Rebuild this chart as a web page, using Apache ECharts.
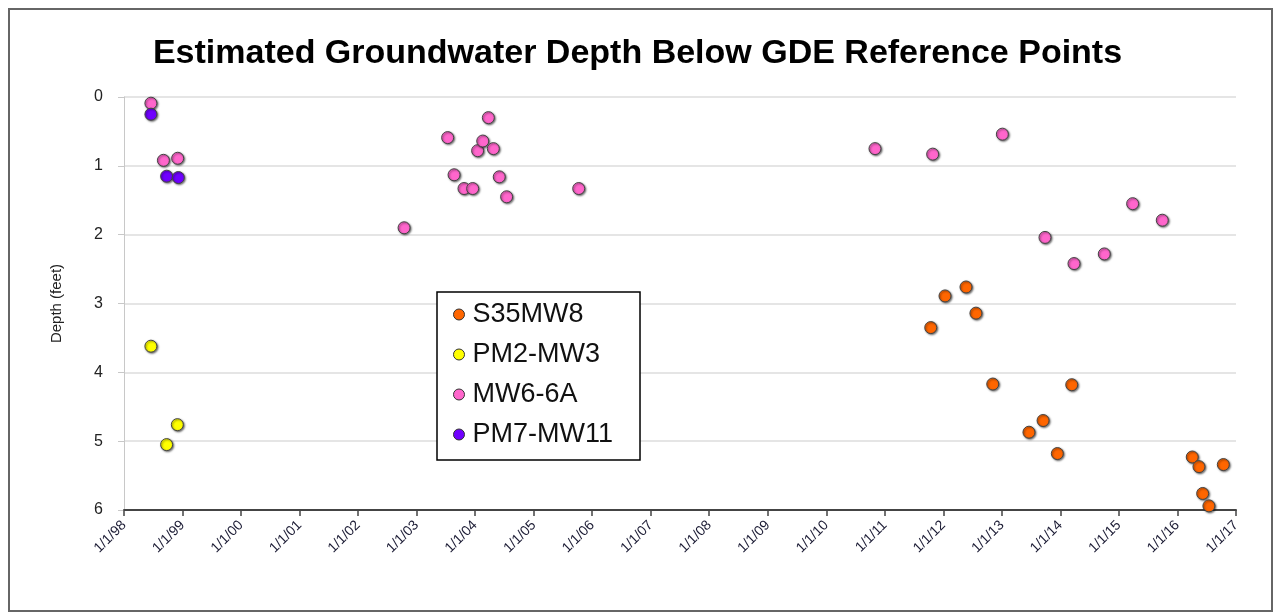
<!DOCTYPE html>
<html>
<head>
<meta charset="utf-8">
<script src="https://cdn.jsdelivr.net/npm/echarts@6/dist/echarts.min.js"></script>
<style>
  html, body { margin: 0; padding: 0; background: #fff; }
  #chart { width: 1275px; height: 613px; }
</style>
</head>
<body>
<div id="chart"></div>
<script>
// series data: [date, depth in feet]
const s35mw8 = [
  ["2011-10-15", 3.35], ["2012-01-12", 2.89], ["2012-05-22", 2.76], ["2012-07-23", 3.14],
  ["2012-11-05", 4.17], ["2013-06-19", 4.87], ["2013-09-15", 4.70], ["2013-12-13", 5.18],
  ["2014-03-13", 4.18], ["2016-04-03", 5.23], ["2016-05-15", 5.37], ["2016-06-07", 5.76],
  ["2016-07-16", 5.94], ["2016-10-14", 5.34]
];
const pm2mw3 = [
  ["1998-06-18", 3.62], ["1998-09-24", 5.05], ["1998-11-30", 4.76]
];
const mw66a = [
  ["1998-06-18", 0.09], ["1998-09-04", 0.92], ["1998-12-02", 0.89],
  ["2002-10-15", 1.90], ["2003-07-14", 0.59], ["2003-08-23", 1.13], ["2003-10-24", 1.33],
  ["2003-12-17", 1.33], ["2004-01-17", 0.78], ["2004-02-18", 0.64], ["2004-03-24", 0.30],
  ["2004-04-24", 0.75], ["2004-05-31", 1.16], ["2004-07-16", 1.45], ["2005-10-09", 1.33],
  ["2010-11-01", 0.75], ["2011-10-27", 0.83], ["2013-01-04", 0.54], ["2013-09-27", 2.04],
  ["2014-03-27", 2.42], ["2014-10-02", 2.28], ["2015-03-28", 1.55], ["2015-09-29", 1.79]
];
const pm7mw11 = [
  ["1998-06-18", 0.25], ["1998-09-24", 1.15], ["1998-12-06", 1.17]
];
const seriesNames = ["S35MW8", "PM2-MW3", "MW6-6A", "PM7-MW11"];
const seriesColors = ["#FF6600", "#FFFF00", "#FF66CC", "#7000FF"];
const seriesData = [s35mw8, pm2mw3, mw66a, pm7mw11];

const chart = echarts.init(document.getElementById("chart"));
const font = "'Liberation Sans', Arial, sans-serif";
const YEAR = 365 * 24 * 3600 * 1000;

const options = {
  animation: false,
  backgroundColor: "#fff",
  graphic: [
    {
      type: "rect",
      shape: { x: 9, y: 9, width: 1263, height: 602 },
      style: { fill: "none", stroke: "#666", lineWidth: 2 },
      silent: true,
      z: -1
    }
  ],
  title: {
    text: "Estimated Groundwater Depth Below GDE Reference Points",
    left: "center",
    top: 32,
    textStyle: { fontFamily: font, fontSize: 34, fontWeight: "bold", color: "#000" }
  },
  legend: {
    orient: "vertical",
    left: 437,
    top: 292,
    padding: [9, 27, 12, 16],
    itemGap: 13,
    itemWidth: 11,
    itemHeight: 11,
    borderColor: "#000",
    borderWidth: 1.5,
    backgroundColor: "#fff",
    icon: "circle",
    textStyle: { fontFamily: font, fontSize: 27, color: "#111", padding: [0, 0, 0, 3] },
    data: seriesNames.map((n, i) => ({
      name: n,
      itemStyle: { color: seriesColors[i], borderColor: "#333", borderWidth: 1 }
    }))
  },
  grid: { left: 124, right: 39, top: 97, bottom: 103, containLabel: false },
  xAxis: {
    type: "time",
    position: "bottom",
    min: "1998-01-01",
    max: "2017-01-01",
    minInterval: YEAR,
    maxInterval: YEAR + 24 * 3600 * 1000,
    splitLine: { show: false },
    axisLine: { onZero: false, lineStyle: { color: "#444", width: 2 } },
    axisTick: { show: true, length: 6, lineStyle: { color: "#444", width: 1.5 } },
    axisLabel: {
      rotate: 45,
      fontFamily: font,
      fontSize: 14,
      color: "#1a1a33",
      margin: 13,
      showMinLabel: true,
      showMaxLabel: true,
      formatter: val => {
        const d = new Date(val);
        return "1/1/" + String(d.getFullYear()).slice(2);
      }
    }
  },
  yAxis: {
    type: "value",
    inverse: true,
    min: 0,
    max: 6,
    interval: 1,
    name: "Depth (feet)",
    nameLocation: "middle",
    nameGap: 60,
    nameTextStyle: { fontFamily: font, fontSize: 15, color: "#222" },
    axisLine: { show: true, lineStyle: { color: "#c8c8c8", width: 1 } },
    axisTick: { show: true, length: 6, lineStyle: { color: "#c8c8c8" } },
    axisLabel: { fontFamily: font, fontSize: 16, color: "#222", margin: 21 },
    splitLine: { lineStyle: { color: "#dcdcdc", width: 1.5 } }
  },
  series: seriesNames.map((n, i) => ({
    name: n,
    type: "scatter",
    data: seriesData[i],
    symbol: "circle",
    symbolSize: 12,
    itemStyle: {
      color: seriesColors[i],
      borderColor: "#444",
      borderWidth: 1,
      opacity: 1,
      shadowColor: "rgba(0,0,0,0.55)",
      shadowBlur: 2,
      shadowOffsetX: 1,
      shadowOffsetY: 1
    }
  }))
};

chart.setOption(options);
</script>
</body>
</html>
